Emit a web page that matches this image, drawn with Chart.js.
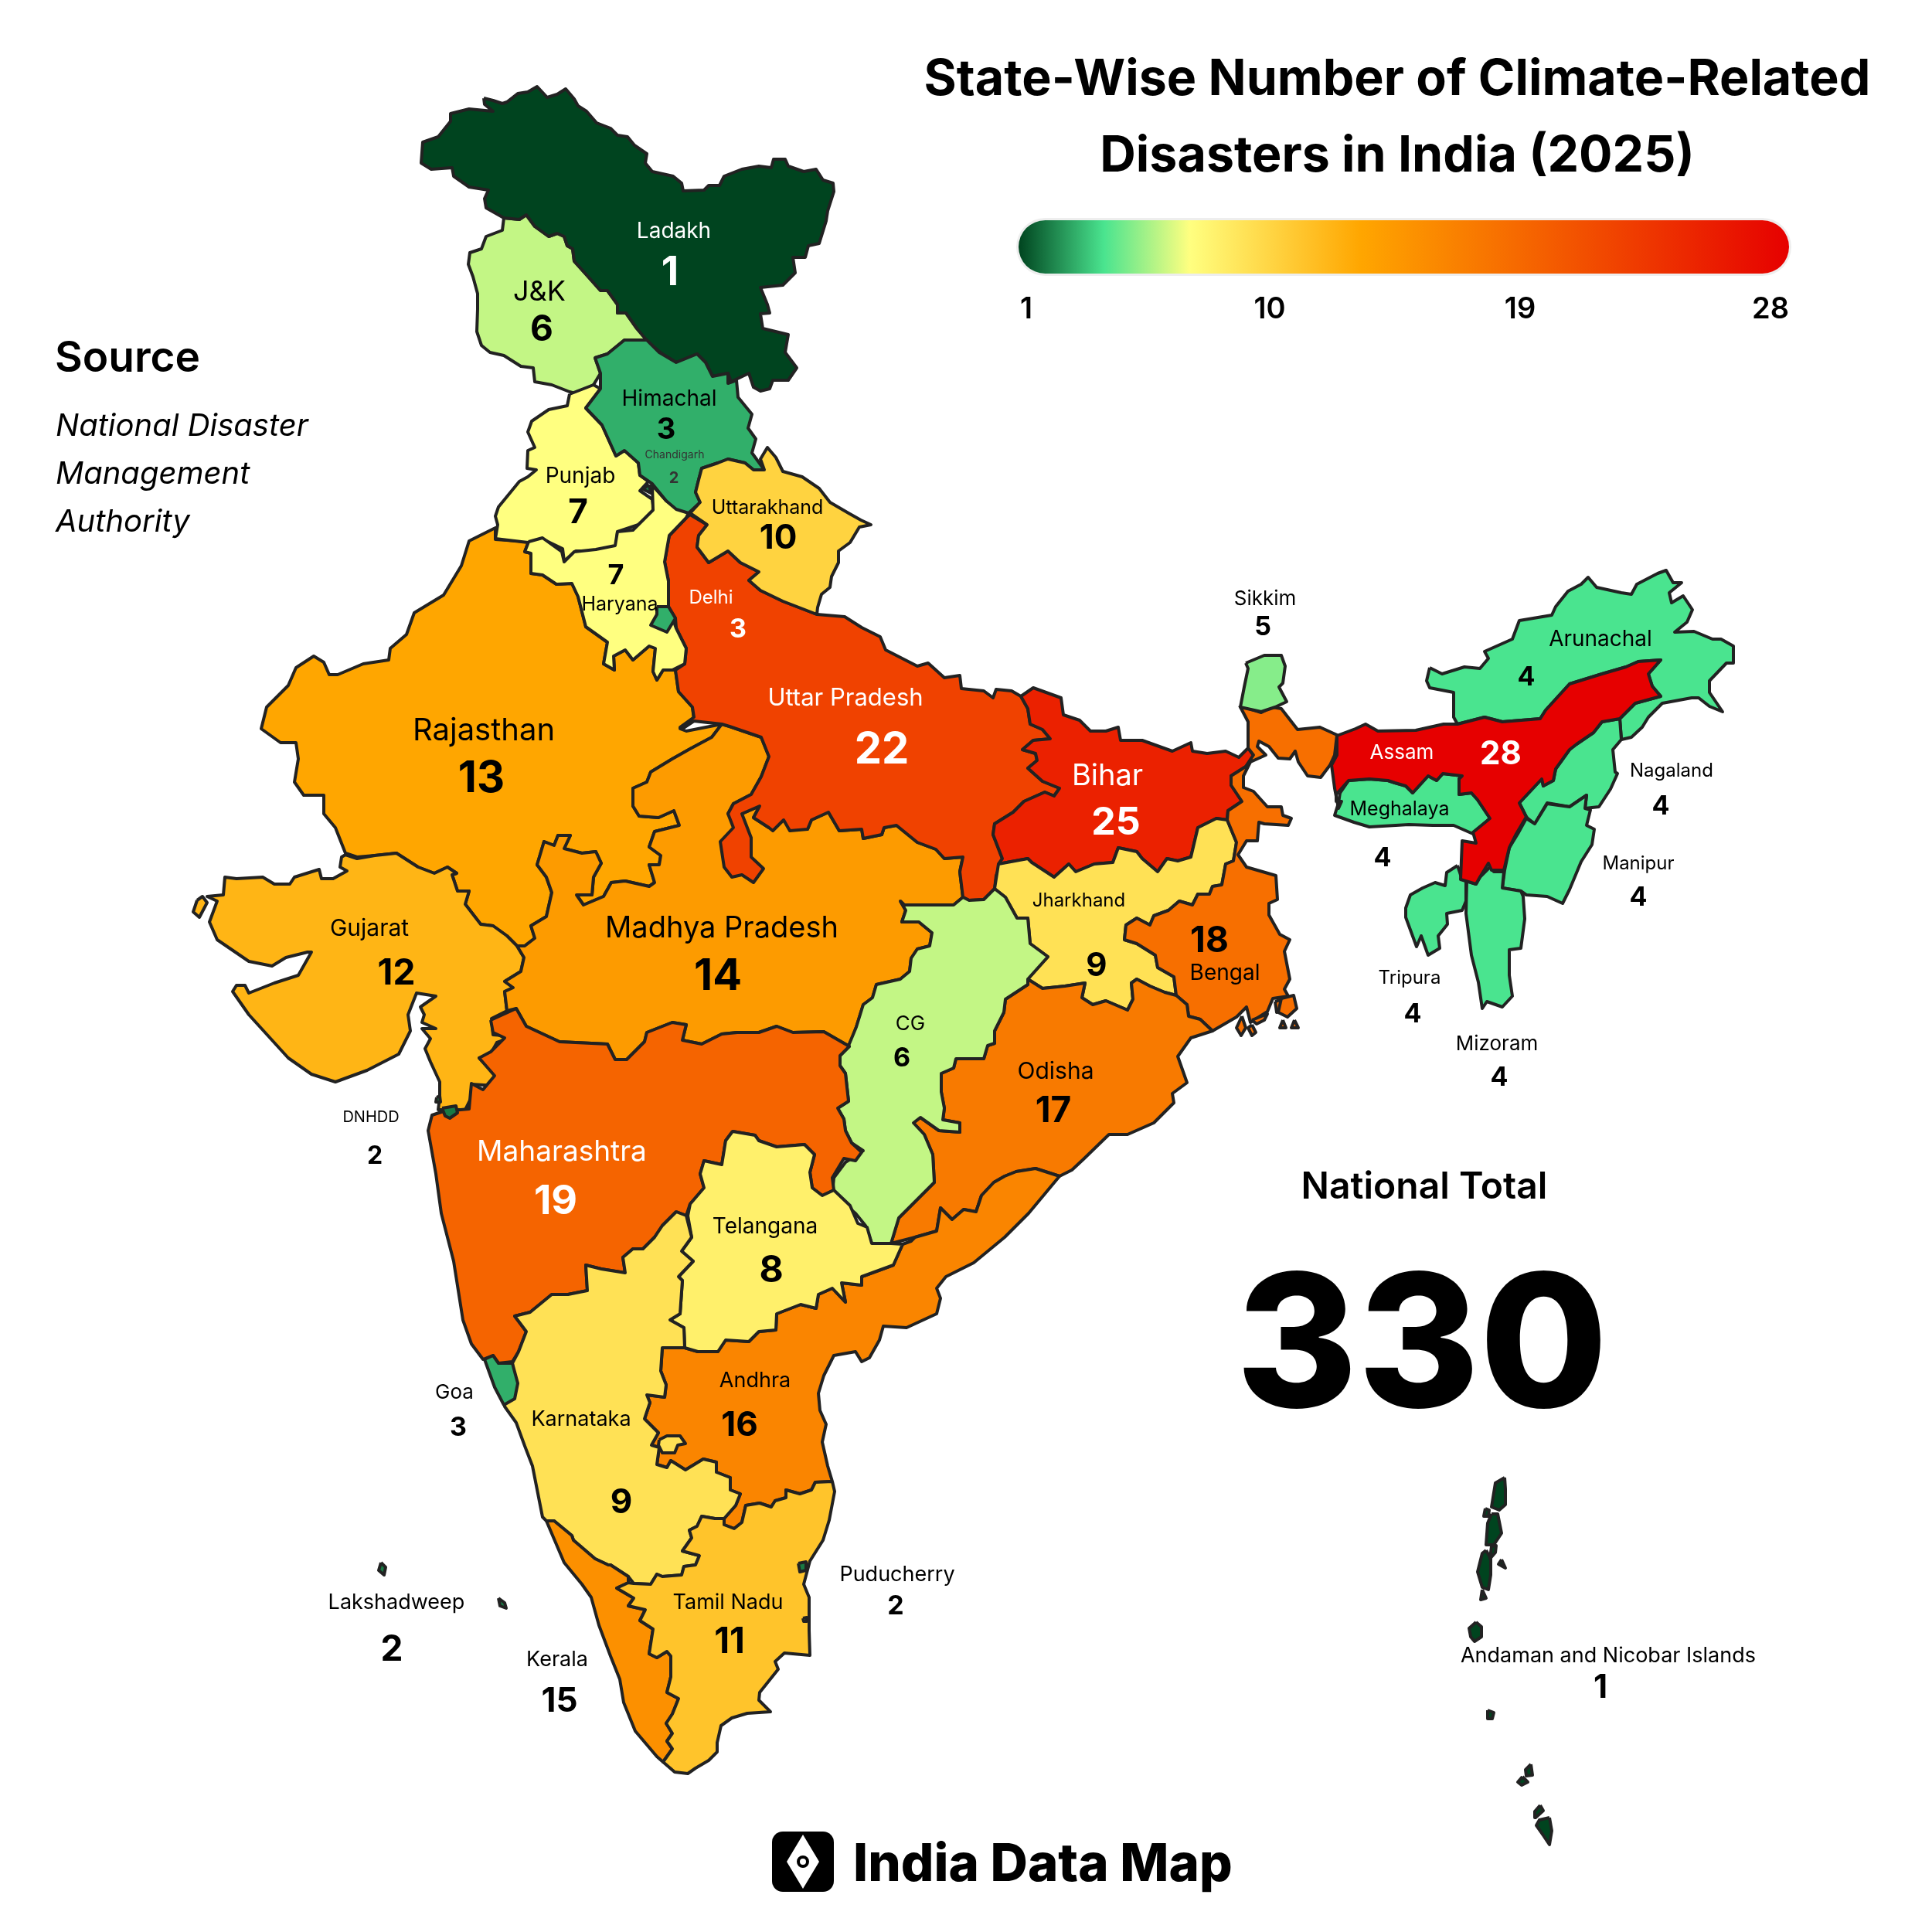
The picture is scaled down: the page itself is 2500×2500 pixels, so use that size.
<!DOCTYPE html>
<html>
<head>
<meta charset="utf-8">
<title>State-Wise Number of Climate-Related Disasters in India (2025)</title>
<script src="https://cdn.jsdelivr.net/npm/chart.js@4"></script>
<style>
    html, body { margin: 0; padding: 0; background: #fff; }
    #page { position: relative; width: 2500px; height: 2500px; overflow: hidden; font-family: Inter, sans-serif; color: #000; }
    #page canvas { position: absolute; left: 0; top: 0; }
    .txt { position: absolute; white-space: nowrap; line-height: 1; }
    .mid { transform: translate(-50%, -50%); }
    #bar { position: absolute; left: 1318px; top: 285px; width: 997px; height: 69px; border-radius: 35px; box-shadow: 0 0 0 3px #eeeeee; }
    #logo { position: absolute; left: 999px; top: 2370px; width: 80px; height: 78px; background: #000; border-radius: 14px; }
    #logo i { position: absolute; left: 19px; top: 4px; width: 42px; height: 70px; background: #fff; clip-path: polygon(50% 0, 100% 50%, 50% 100%, 0 50%); }
    #logo b { position: absolute; left: 32px; top: 31px; width: 8px; height: 8px; border: 4px solid #000; border-radius: 50%; background: #fff; }
</style>
</head>
<body>
<div id="page">
    <canvas id="mapChart" width="2500" height="2500"></canvas>
    <div class="txt mid" style="left:1808px;top:100px;font-size:64.5px;font-weight:700">State-Wise Number of Climate-Related</div>
    <div class="txt mid" style="left:1808px;top:199px;font-size:64.5px;font-weight:700">Disasters in India (2025)</div>
    <div id="bar"></div>
    <div id="legendTicks"></div>
    <div class="txt" style="left:71px;top:434px;font-size:55px;font-weight:600">Source</div>
    <div class="txt" style="left:72px;top:530px;font-size:40px;font-style:italic">National Disaster</div>
    <div class="txt" style="left:72px;top:592px;font-size:40px;font-style:italic">Management</div>
    <div class="txt" style="left:72px;top:654px;font-size:40px;font-style:italic">Authority</div>
    <div class="txt mid" style="left:1843px;top:1534px;font-size:48px;font-weight:600">National Total</div>
    <div class="txt mid" style="left:1840px;top:1734px;font-size:240px;font-weight:800">330</div>
    <div id="logo"><i></i><b></b></div>
    <div class="txt" style="left:1104px;top:2376px;font-size:67px;font-weight:800">India Data Map</div>
</div>

<script>
// disasters per state
const stateNames = ['Ladakh', 'J&K', 'Himachal', 'Chandigarh', 'Punjab', 'Haryana', 'Uttarakhand', 'Delhi', 'Uttar Pradesh',
    'Rajasthan', 'Bihar', 'Sikkim', 'Arunachal', 'Assam', 'Meghalaya', 'Nagaland', 'Manipur', 'Tripura', 'Mizoram',
    'Gujarat', 'Madhya Pradesh', 'Jharkhand', 'Bengal', 'CG', 'Odisha', 'Maharashtra', 'DNHDD', 'Telangana', 'Andhra',
    'Goa', 'Karnataka', 'Tamil Nadu', 'Puducherry', 'Lakshadweep', 'Kerala', 'Andaman and Nicobar Islands'];
const stateValues = [1, 6, 3, 2, 7, 7, 10, 3, 22, 13, 25, 5, 4, 28, 4, 4, 4, 4, 4, 12, 14, 9, 18, 6, 17, 19, 2, 8, 16, 3, 9, 11, 2, 2, 15, 1];
const legendValues = [1, 10, 19, 28];

// colour ramp, value -> colour
const rampValues = [1, 4, 7, 13, 28];
const rampColors = ['#00441f', '#4ae48f', '#ffff80', '#ffa600', '#e60000'];

// state outlines in map units, x,y,x,y...
const ladakh = [626,127,638,130,650,134,656,132,670,121,683,119,695,112,708,126,721,122,732,115,743,128,748,137,759,144,772,159,790,166,799,175,812,177,821,188,837,199,835,211,844,222,871,228,882,237,884,247,911,246,917,240,931,240,937,228,960,219,982,215,998,217,1001,206,1016,206,1020,215,1040,222,1056,219,1065,233,1078,237,1079,248,1071,273,1069,286,1060,315,1046,318,1042,333,1026,333,1029,353,1013,369,984,372,993,394,996,405,984,406,987,425,1020,433,1016,456,1031,476,1020,492,1000,492,996,503,984,506,975,501,969,483,946,494,942,483,922,487,913,469,902,458,875,469,857,458,839,443,824,425,810,405,799,405,799,394,786,376,777,376,761,358,743,338,741,322,734,318,730,306,721,302,710,306,692,293,681,278,672,284,652,282,629,269,627,257,632,246,607,242,587,228,585,217,558,219,545,211,547,184,567,177,583,157,583,147,607,141,638,144,627,135];
const jammuKashmir = [652,282,650,298,629,306,623,322,608,327,606,342,612,358,618,380,618,400,617,429,623,447,634,456,652,460,674,474,690,476,692,494,714,498,737,507,748,510,768,498,777,483,770,463,786,458,808,440,837,440,824,425,810,405,799,405,799,394,786,376,777,376,761,358,743,338,741,322,734,318,730,306,721,302,710,306,692,293,681,278,672,284];
const himachal = [770,463,786,458,808,440,837,440,853,456,875,469,902,458,913,469,922,487,942,483,942,496,953,492,955,514,973,536,968,554,978,568,973,586,989,608,975,608,964,599,942,594,929,599,908,606,904,621,900,637,906,650,891,664,875,659,862,648,844,626,828,615,826,599,808,583,797,590,779,550,758,528,777,503,777,483];
const chandigarh = [840,627,832,633,842,638];
const punjab = [737,510,768,498,777,503,758,528,779,550,797,590,808,583,826,599,828,615,839,623,828,635,844,646,846,661,826,679,799,688,797,708,772,713,745,713,730,726,728,710,701,697,683,702,641,697,644,679,641,668,645,656,672,623,683,617,694,608,682,606,683,583,692,579,683,559,688,545,710,530,734,525];
const haryana = [684,701,702,696,727,714,730,727,743,714,771,711,796,706,799,688,819,686,845,660,844,628,862,648,891,664,888,670,866,693,860,727,865,752,865,785,875,813,888,839,886,859,870,867,858,867,850,880,845,869,848,839,840,836,819,854,809,841,794,849,795,867,781,859,786,831,758,811,748,772,740,755,720,756,702,744,687,742,687,716,679,714];
const delhi = [850,785,865,785,874,800,863,818,842,809,850,795];
const uttarakhand = [893,664,906,650,900,637,904,621,908,606,929,599,942,594,964,599,975,608,989,608,984,594,993,579,1004,592,1013,610,1038,617,1060,632,1074,650,1098,664,1114,673,1127,679,1112,682,1100,702,1085,713,1085,728,1076,746,1074,760,1063,769,1058,786,1057,795,1013,778,984,764,969,751,982,740,958,728,942,713,917,728,902,708,904,693,915,679];
const uttarPradesh = [893,666,915,679,904,693,902,708,917,728,942,713,958,728,982,740,969,751,984,764,1013,778,1057,795,1093,798,1115,812,1139,824,1146,841,1187,862,1201,858,1222,877,1242,874,1244,891,1273,894,1285,903,1289,892,1309,894,1321,901,1330,917,1333,937,1349,944,1359,956,1337,958,1323,970,1340,975,1342,984,1330,994,1349,1011,1371,1020,1364,1030,1352,1025,1325,1037,1311,1051,1287,1066,1285,1080,1297,1111,1289,1133,1287,1150,1273,1164,1254,1165,1246,1161,1242,1128,1246,1109,1222,1111,1211,1099,1187,1090,1160,1068,1144,1071,1141,1080,1117,1085,1115,1073,1086,1075,1072,1051,1050,1061,1045,1073,1022,1075,1014,1061,1000,1075,995,1071,975,1058,983,1043,960,1053,972,1084,972,1109,988,1124,975,1142,960,1132,947,1135,937,1122,932,1089,949,1071,942,1053,949,1040,972,1028,985,1005,995,979,985,954,944,940,934,937,898,933,883,943,880,941,898,928,896,915,878,895,874,867,886,859,888,839,875,813,874,800,865,785,865,752,860,727,866,693,888,670];
const rajasthan = [641,698,684,701,679,714,687,716,687,742,702,744,720,756,740,755,748,772,758,811,786,831,781,859,795,867,794,849,809,841,819,854,840,836,848,839,845,869,850,880,858,867,874,867,878,895,896,915,898,931,880,943,888,946,934,937,921,954,893,969,870,982,842,999,837,1012,819,1020,819,1043,827,1056,852,1058,872,1049,879,1068,847,1076,840,1096,855,1107,853,1119,840,1119,847,1142,840,1147,809,1140,791,1142,781,1160,755,1171,746,1158,766,1158,768,1135,778,1117,771,1102,753,1104,730,1098,738,1081,722,1081,717,1094,704,1089,695,1119,707,1135,714,1155,707,1186,687,1198,692,1214,679,1224,669,1224,656,1211,638,1198,622,1196,602,1170,607,1153,592,1153,585,1132,591,1130,579,1122,562,1130,541,1122,513,1104,485,1107,462,1109,447,1104,434,1071,419,1053,419,1029,393,1029,381,1012,386,982,383,961,363,961,338,943,345,915,373,887,383,864,406,849,419,857,426,873,437,873,470,859,503,854,505,839,526,821,536,793,574,770,597,732,607,700,641,683];
const bihar = [1321,901,1337,890,1373,903,1376,925,1397,932,1411,946,1431,946,1447,941,1450,958,1478,958,1517,972,1541,961,1543,972,1562,975,1586,972,1603,980,1615,968,1622,977,1612,992,1593,1004,1593,1016,1607,1037,1589,1049,1588,1061,1574,1059,1550,1071,1541,1109,1524,1114,1510,1111,1498,1128,1478,1111,1471,1102,1447,1097,1440,1116,1416,1118,1392,1128,1383,1118,1364,1135,1335,1116,1330,1111,1292,1118,1297,1111,1285,1080,1287,1066,1311,1051,1325,1037,1352,1025,1364,1030,1371,1020,1349,1011,1330,994,1342,984,1340,975,1323,970,1337,958,1359,956,1349,944,1333,937,1330,917];
const sikkim = [1612,858,1636,848,1658,848,1663,862,1660,884,1655,889,1665,908,1650,915,1632,921,1605,915,1610,889,1615,865];
const arunachal = [1850,864,1866,872,1895,863,1915,865,1926,852,1921,843,1957,827,1966,803,2008,796,2013,785,2029,765,2046,756,2055,747,2066,760,2098,767,2111,769,2118,756,2145,742,2156,738,2165,754,2176,754,2160,767,2163,780,2178,771,2190,789,2183,805,2167,818,2192,817,2216,827,2227,827,2243,836,2243,858,2234,858,2212,881,2212,896,2229,921,2212,914,2198,903,2189,903,2151,910,2133,928,2125,941,2111,954,2098,957,2096,930,2116,910,2149,901,2138,888,2133,872,2149,854,2120,856,2104,863,2073,872,2031,885,2000,919,1993,930,1944,934,1921,928,1886,937,1881,928,1881,896,1850,890,1846,881];
const assam = [1730,952,1754,943,1767,937,1783,946,1832,945,1868,937,1886,937,1921,928,1944,934,1993,930,2000,919,2031,885,2073,872,2104,863,2120,856,2149,854,2133,872,2138,888,2149,901,2116,910,2096,930,2073,934,2062,948,2040,963,2031,970,2013,995,2010,1010,1997,1017,1995,1008,1966,1039,1975,1057,1962,1079,1953,1097,1946,1126,1930,1126,1926,1117,1915,1135,1910,1144,1890,1138,1892,1088,1910,1091,1906,1077,1928,1059,1912,1035,1904,1026,1888,1028,1888,1008,1892,1004,1867,1001,1859,1010,1848,1004,1828,1026,1819,1017,1805,1013,1796,1010,1772,1008,1745,1010,1729,1028,1729,1037,1736,1037,1732,1046,1727,1020,1723,990,1730,977];
const meghalaya = [1734,1026,1745,1010,1772,1008,1796,1010,1805,1013,1819,1017,1828,1026,1848,1004,1859,1010,1867,1001,1892,1004,1888,1008,1888,1028,1904,1026,1912,1035,1928,1059,1906,1079,1881,1068,1854,1068,1823,1067,1772,1070,1752,1064,1727,1055,1732,1039];
const nagaland = [2096,930,2098,957,2087,970,2090,999,2093,1001,2084,1021,2069,1044,2051,1046,2053,1029,2031,1044,2002,1039,1986,1066,1977,1059,1975,1057,1966,1039,1995,1008,1997,1017,2010,1010,2013,995,2031,970,2040,963,2062,948,2073,934];
const manipur = [2002,1040,2031,1044,2053,1029,2051,1046,2058,1048,2053,1068,2063,1073,2060,1093,2046,1115,2031,1151,2022,1169,2002,1160,1975,1158,1968,1153,1944,1149,1947,1126,1953,1097,1964,1079,1975,1059,1986,1066];
const tripura = [1886,1120,1892,1138,1897,1140,1897,1166,1892,1178,1872,1182,1873,1196,1861,1211,1863,1227,1848,1236,1839,1211,1833,1225,1819,1187,1819,1175,1825,1158,1841,1149,1857,1142,1870,1146,1872,1129];
const mizoram = [1928,1122,1933,1128,1946,1128,1944,1149,1968,1153,1971,1160,1973,1189,1968,1227,1953,1229,1953,1262,1957,1289,1944,1303,1924,1296,1918,1305,1913,1271,1904,1236,1897,1182,1898,1140,1910,1144,1915,1135];
const gujarat = [447,1106,462,1111,485,1107,513,1104,541,1122,562,1130,579,1122,591,1130,585,1132,592,1153,607,1153,602,1170,622,1196,638,1198,656,1211,669,1224,678,1239,674,1257,653,1270,664,1278,653,1283,656,1308,636,1318,638,1339,666,1341,643,1349,633,1367,620,1369,641,1390,641,1405,610,1403,610,1420,602,1436,567,1436,569,1420,569,1400,557,1374,550,1357,557,1344,546,1331,564,1331,546,1323,549,1313,544,1303,564,1289,539,1285,528,1313,531,1334,516,1364,475,1385,434,1400,403,1390,373,1369,322,1313,301,1283,306,1275,317,1275,322,1285,355,1272,386,1262,403,1232,398,1232,370,1239,352,1250,322,1244,281,1216,271,1193,281,1166,268,1160,289,1158,291,1135,306,1137,340,1135,355,1144,375,1144,381,1135,413,1125,416,1137,431,1137,449,1127,440,1122,442,1109];
const gujaratIslet = [255,1165,262,1160,268,1168,258,1187,250,1180];
const madhyaPradesh = [669,1224,679,1224,692,1214,687,1198,707,1186,714,1155,707,1135,695,1119,704,1089,717,1094,722,1081,738,1081,730,1098,753,1104,771,1102,778,1117,768,1135,766,1158,746,1158,755,1171,781,1160,791,1142,809,1140,840,1147,847,1142,840,1119,853,1119,855,1107,840,1096,847,1076,879,1068,872,1049,852,1058,827,1056,819,1043,819,1020,837,1012,842,999,870,982,893,969,921,954,934,937,944,940,985,954,995,979,985,1005,972,1028,949,1040,942,1053,960,1053,983,1043,975,1058,995,1071,1011,1058,1026,1071,1045,1073,1050,1061,1072,1051,1086,1075,1115,1073,1117,1085,1141,1080,1144,1071,1160,1068,1187,1090,1211,1099,1222,1111,1246,1109,1242,1128,1246,1161,1234,1171,1170,1171,1165,1166,1172,1178,1167,1193,1189,1193,1206,1207,1203,1224,1187,1228,1179,1240,1177,1257,1165,1267,1134,1274,1129,1291,1117,1300,1108,1329,1099,1354,1066,1335,1026,1336,1005,1328,982,1336,954,1336,934,1338,908,1351,883,1346,888,1326,870,1323,837,1336,834,1348,811,1371,796,1371,786,1351,724,1348,681,1328,668,1305,656,1308,653,1283,664,1278,653,1270,674,1257,678,1239];
const jharkhand = [1292,1118,1330,1111,1335,1116,1364,1135,1383,1118,1392,1128,1416,1118,1440,1116,1447,1097,1471,1102,1478,1111,1498,1128,1510,1111,1524,1114,1541,1109,1550,1071,1574,1059,1588,1061,1600,1090,1596,1114,1586,1118,1581,1145,1569,1147,1565,1157,1550,1157,1543,1171,1526,1166,1512,1178,1493,1185,1488,1197,1471,1188,1457,1197,1455,1216,1471,1221,1495,1236,1498,1252,1519,1264,1522,1288,1507,1284,1488,1276,1471,1267,1464,1272,1466,1293,1459,1307,1431,1295,1414,1300,1400,1291,1404,1272,1378,1276,1349,1279,1330,1267,1356,1238,1333,1221,1330,1188,1316,1188,1301,1161,1287,1150];
const bengal = [1604,913,1632,922,1646,915,1658,917,1679,944,1708,941,1730,951,1727,977,1721,990,1709,1006,1692,1004,1680,986,1676,972,1669,982,1654,981,1642,966,1629,959,1627,966,1638,977,1618,986,1609,1004,1609,1019,1622,1024,1640,1044,1658,1044,1660,1055,1671,1059,1667,1068,1636,1066,1629,1064,1627,1088,1613,1088,1602,1106,1613,1122,1651,1133,1653,1164,1642,1169,1642,1184,1656,1209,1669,1216,1662,1231,1669,1267,1662,1280,1667,1289,1647,1292,1640,1309,1618,1323,1613,1303,1600,1316,1569,1334,1553,1319,1538,1315,1536,1300,1522,1288,1519,1264,1498,1252,1495,1236,1471,1221,1455,1216,1457,1197,1471,1188,1488,1197,1493,1185,1512,1178,1526,1166,1543,1171,1550,1157,1565,1157,1569,1147,1581,1145,1586,1118,1596,1114,1600,1090,1588,1061,1589,1049,1607,1037,1593,1016,1593,1004,1612,992,1622,977,1615,968,1615,956,1615,934];
const bengalIslets = [[1607,1315,1612,1330,1606,1340,1600,1330],[1620,1326,1625,1336,1620,1340,1615,1330],[1620,1320,1640,1312,1636,1320,1626,1325],[1650,1296,1666,1291,1662,1306,1652,1310],[1658,1292,1674,1288,1678,1305,1666,1316,1654,1310],[1660,1320,1664,1330,1656,1330],[1675,1320,1680,1330,1671,1330]];
const chhattisgarh = [1165,1166,1170,1171,1234,1171,1246,1161,1254,1165,1273,1164,1287,1150,1301,1161,1316,1188,1330,1188,1333,1221,1356,1238,1330,1267,1330,1274,1301,1293,1299,1310,1287,1334,1287,1350,1278,1353,1273,1370,1237,1370,1234,1382,1218,1389,1218,1413,1222,1434,1220,1449,1242,1453,1242,1465,1215,1463,1191,1446,1182,1453,1196,1468,1207,1494,1209,1530,1189,1550,1163,1576,1153,1609,1128,1609,1120,1586,1107,1570,1077,1545,1079,1524,1094,1504,1117,1489,1102,1479,1094,1463,1092,1448,1084,1434,1098,1425,1094,1389,1087,1379,1087,1366,1099,1354,1098,1353,1108,1329,1117,1300,1129,1291,1134,1274,1165,1267,1177,1257,1179,1240,1187,1228,1203,1224,1206,1207,1189,1193,1167,1193,1172,1178];
const odisha = [1330,1267,1349,1279,1378,1276,1404,1272,1400,1291,1414,1300,1431,1295,1459,1307,1466,1293,1464,1272,1471,1267,1488,1276,1507,1284,1522,1288,1536,1300,1538,1315,1553,1319,1569,1334,1541,1343,1524,1367,1536,1401,1517,1415,1519,1427,1493,1453,1459,1468,1435,1468,1402,1500,1387,1514,1371,1522,1340,1512,1315,1516,1300,1522,1286,1530,1270,1547,1263,1568,1247,1565,1232,1578,1217,1563,1212,1593,1184,1601,1153,1609,1163,1576,1189,1550,1209,1530,1207,1494,1196,1468,1182,1453,1191,1446,1215,1463,1242,1465,1242,1453,1220,1449,1222,1434,1218,1413,1218,1389,1234,1382,1237,1370,1273,1370,1278,1353,1287,1350,1287,1334,1299,1310,1301,1293,1330,1274];
const maharashtra = [635,1320,668,1305,681,1328,724,1348,786,1351,796,1371,811,1371,834,1348,837,1336,870,1323,888,1326,883,1346,908,1351,934,1338,954,1336,982,1336,1005,1328,1026,1336,1066,1335,1099,1354,1087,1366,1087,1379,1094,1389,1098,1425,1084,1434,1092,1448,1094,1463,1102,1479,1115,1491,1107,1502,1092,1499,1077,1524,1079,1540,1064,1547,1051,1537,1048,1517,1054,1494,1041,1481,1005,1484,982,1476,977,1469,948,1464,939,1476,934,1507,911,1502,906,1519,911,1537,893,1558,888,1573,875,1568,857,1586,847,1601,832,1616,819,1616,806,1627,809,1647,778,1642,758,1637,760,1670,735,1675,714,1675,686,1698,666,1703,681,1723,671,1749,663,1762,645,1764,638,1754,625,1759,610,1739,599,1708,587,1632,571,1570,564,1519,554,1463,559,1443,574,1438,607,1435,610,1402,625,1410,640,1392,620,1369,635,1361,653,1343,638,1336];
const dnhdd = [[572,1434,590,1431,592,1440,582,1447,576,1444],[565,1420,569,1418,570,1426,564,1426]];
const telangana = [948,1464,977,1469,982,1476,1005,1484,1041,1481,1054,1494,1048,1517,1051,1537,1064,1547,1079,1540,1100,1560,1110,1583,1122,1588,1128,1609,1153,1609,1168,1610,1156,1637,1115,1652,1115,1663,1089,1660,1094,1685,1077,1667,1059,1675,1056,1693,1036,1688,1005,1700,1004,1721,982,1723,969,1736,939,1734,929,1749,903,1749,886,1744,885,1718,867,1708,880,1700,883,1657,878,1652,897,1632,882,1619,895,1601,890,1573,893,1558,911,1537,906,1519,911,1502,934,1507,939,1476];
const andhra = [857,1744,886,1744,903,1749,929,1749,939,1734,969,1736,982,1723,1004,1721,1005,1700,1036,1688,1056,1693,1059,1675,1077,1667,1094,1685,1089,1660,1115,1663,1115,1652,1156,1637,1168,1610,1179,1606,1184,1601,1212,1593,1217,1563,1232,1578,1247,1565,1263,1568,1270,1547,1286,1530,1300,1522,1315,1516,1340,1512,1371,1522,1331,1570,1300,1601,1260,1634,1224,1652,1212,1667,1217,1680,1212,1700,1173,1718,1143,1716,1138,1734,1125,1757,1115,1762,1107,1749,1079,1754,1066,1780,1059,1803,1061,1825,1069,1843,1064,1866,1071,1897,1077,1917,1055,1918,1050,1928,1035,1933,1017,1928,1017,1938,1003,1942,998,1950,983,1945,965,1948,960,1970,950,1978,937,1973,937,1965,952,1948,958,1933,945,1928,945,1912,927,1905,927,1892,910,1888,887,1902,868,1890,863,1899,850,1895,853,1873,843,1870,852,1854,834,1836,841,1815,837,1805,860,1808,862,1792,855,1774];
const goa = [627,1759,638,1754,645,1764,663,1764,670,1790,666,1810,652,1818,640,1795];
const karnataka = [875,1568,888,1573,895,1601,882,1619,897,1632,878,1652,883,1657,880,1700,867,1708,885,1718,886,1744,857,1744,855,1774,862,1792,860,1808,837,1805,841,1815,834,1836,852,1854,843,1870,853,1873,850,1895,863,1899,868,1890,887,1902,910,1888,927,1892,927,1905,945,1912,945,1928,958,1933,952,1948,937,1965,925,1965,908,1962,902,1975,892,1980,895,1990,883,2007,905,2013,900,2025,885,2027,882,2038,857,2040,850,2037,842,2050,820,2049,813,2040,790,2025,787,2025,770,2017,742,1993,740,1987,717,1968,707,1968,702,1963,689,1897,679,1871,668,1841,653,1820,653,1813,666,1803,666,1790,663,1764,671,1749,681,1723,666,1703,686,1698,714,1675,735,1675,760,1670,758,1637,778,1642,809,1647,806,1627,819,1616,832,1616,847,1601,857,1586];
const karnatakaEnclave = [853,1863,863,1858,880,1858,887,1868,877,1870,873,1880,857,1880,852,1870];
const tamilNadu = [1077,1917,1080,1930,1073,1967,1065,1993,1048,2020,1040,2050,1047,2067,1047,2110,1048,2142,1015,2139,1003,2150,1007,2160,983,2190,982,2200,997,2215,967,2217,947,2223,933,2233,928,2255,928,2267,917,2278,900,2288,890,2295,873,2293,858,2280,870,2263,863,2253,870,2243,862,2230,870,2218,878,2198,863,2190,868,2170,868,2143,863,2137,850,2145,840,2140,845,2108,828,2097,835,2083,813,2078,820,2068,798,2055,813,2048,820,2049,842,2050,850,2037,857,2040,882,2038,885,2027,900,2025,905,2013,883,2007,895,1990,892,1980,902,1975,908,1962,925,1965,937,1965,937,1973,950,1978,960,1970,965,1948,983,1945,998,1950,1003,1942,1017,1938,1017,1928,1035,1933,1050,1928,1055,1918];
const puducherry = [[1033,2023,1043,2021,1043,2032,1035,2034],[1039,2094,1044,2093,1044,2098,1040,2098]];
const lakshadweep = [[493,2022,499,2028,497,2038,490,2032],[645,2068,653,2074,655,2081,647,2078]];
const kerala = [707,1968,717,1968,740,1987,742,1993,770,2017,787,2025,790,2025,813,2040,813,2048,798,2055,820,2068,813,2078,835,2083,828,2097,845,2108,840,2140,850,2145,863,2137,868,2143,868,2170,863,2190,878,2198,870,2218,862,2230,870,2243,863,2253,870,2263,858,2280,850,2273,822,2240,807,2203,802,2173,790,2143,775,2103,765,2067,753,2050,730,2022];
const andamanNicobar = [[1947,1912,1935,1919,1930,1950,1940,1954,1948,1947,1948,1927],[1930,1959,1938,1959,1943,1984,1933,1999,1923,1999,1925,1971],[1922,1952,1927,1954,1926,1962,1920,1962],[1923,2006,1929,2017,1929,2038,1926,2057,1918,2054,1912,2034,1918,2010],[1930,2001,1936,2000,1935,2009,1928,2017],[1943,2018,1948,2029,1939,2024],[1918,2057,1923,2068,1916,2070],[1910,2099,1917,2105,1917,2118,1908,2124,1903,2118,1901,2107],[1925,2213,1933,2216,1931,2224,1925,2224],[1981,2283,1983,2297,1975,2298,1974,2290],[1970,2299,1977,2306,1969,2310,1964,2306],[1993,2336,1997,2343,1987,2352,1986,2344],[2005,2352,2008,2369,2005,2387,1997,2375,1988,2362,1992,2355]];

// paint order, later ones sit on top
const paintOrder = [
    ['Rajasthan', rajasthan], ['Gujarat', gujarat], ['Gujarat', gujaratIslet], ['Madhya Pradesh', madhyaPradesh], ['Uttar Pradesh', uttarPradesh],
    ['Bihar', bihar], ['Jharkhand', jharkhand], ['Bengal', bengal], ['Sikkim', sikkim],
    ['J&K', jammuKashmir], ['Ladakh', ladakh], ['Punjab', punjab], ['Haryana', haryana], ['Himachal', himachal], ['Chandigarh', chandigarh], ['Delhi', delhi], ['Uttarakhand', uttarakhand],
    ['Odisha', odisha], ['CG', chhattisgarh], ['Maharashtra', maharashtra], ['Andhra', andhra], ['Telangana', telangana], ['Karnataka', karnataka], ['Karnataka', karnatakaEnclave],
    ['Goa', goa], ['Kerala', kerala], ['Tamil Nadu', tamilNadu],
    ['Arunachal', arunachal], ['Meghalaya', meghalaya], ['Nagaland', nagaland], ['Manipur', manipur], ['Tripura', tripura], ['Mizoram', mizoram], ['Assam', assam],
    ...bengalIslets.map(p => ['Bengal', p]), ...dnhdd.map(p => ['DNHDD', p]), ...puducherry.map(p => ['Puducherry', p]),
    ...lakshadweep.map(p => ['Lakshadweep', p]), ...andamanNicobar.map(p => ['Andaman and Nicobar Islands', p])
];

// label placement, same order as stateNames: name x,y,size then value x,y,size
const nameX = [872,698,866,873,751,802,993,920,1094,626,1433,1637,2071,1814,1811,2163,2120,1824,1937,478,934,1396,1585,1178,1366,727,480,990,977,588,752,942,1161,513,721,2081];
const nameY = [300,378,517,589,617,782,657,774,904,946,1005,775,828,974,1047,998,1118,1266,1351,1202,1202,1166,1260,1325,1387,1491,1446,1588,1787,1802,1837,2074,2038,2074,2148,2143];
const nameSize = [28,36,28,14,28,25,25,24,31,40,38,26,28,26,25,24,24,24,26,30,38,24,28,26,30,37,20,28,27,26,27,27,27,27,27,27];
const valueX = [867,701,862,872,748,797,1007,955,1141,623,1444,1634,1975,1942,1789,2149,2120,1828,1940,513,929,1419,1565,1167,1363,719,485,998,957,593,804,944,1159,507,724,2071];
const valueY = [353,427,557,619,664,745,697,815,971,1008,1065,812,877,976,1111,1044,1162,1313,1395,1260,1264,1250,1218,1370,1438,1555,1496,1645,1845,1848,1945,2125,2079,2135,2202,2184];
const valueSize = [52,46,38,20,44,36,44,34,56,56,50,34,34,42,34,34,34,34,34,46,56,42,46,34,46,52,32,48,44,34,44,46,34,46,44,42];
const whiteLabels = ['Ladakh', 'Delhi', 'Uttar Pradesh', 'Bihar', 'Assam', 'Maharashtra'];

function hexToRgb(hex) {
    return [1, 3, 5].map(i => parseInt(hex.slice(i, i + 2), 16));
}

function colorFor(value) {
    let i = 0;
    while (i < rampValues.length - 2 && value > rampValues[i + 1]) i++;
    const t = (value - rampValues[i]) / (rampValues[i + 1] - rampValues[i]);
    const a = hexToRgb(rampColors[i]);
    const b = hexToRgb(rampColors[i + 1]);
    return `rgb(${a.map((c, k) => Math.round(c + (b[k] - c) * t)).join(',')})`;
}

function toPoints(flat) {
    const pts = [];
    for (let i = 0; i < flat.length; i += 2) pts.push({ x: flat[i], y: flat[i + 1] });
    pts.push({ x: flat[0], y: flat[1] });
    return pts;
}

// state name and value text, placed through the scales
const stateLabels = {
    id: 'stateLabels',
    afterDatasetsDraw(chart) {
        const { ctx, scales } = chart;
        ctx.save();
        ctx.textAlign = 'center';
        ctx.textBaseline = 'middle';
        stateNames.forEach((name, i) => {
            ctx.fillStyle = whiteLabels.includes(name) ? '#fff' : (name === 'Chandigarh' ? '#333' : '#000');
            ctx.font = `400 ${nameSize[i]}px Inter, sans-serif`;
            ctx.fillText(name, scales.x.getPixelForValue(nameX[i]), scales.y.getPixelForValue(nameY[i]));
            ctx.font = `700 ${valueSize[i]}px Inter, sans-serif`;
            ctx.fillText(stateValues[i], scales.x.getPixelForValue(valueX[i]), scales.y.getPixelForValue(valueY[i]));
        });
        ctx.restore();
    }
};

function renderLegend() {
    const lo = rampValues[0];
    const hi = rampValues[rampValues.length - 1];
    const stops = rampValues.map((v, i) => `${rampColors[i]} ${((v - lo) / (hi - lo) * 100).toFixed(1)}%`);
    document.getElementById('bar').style.background = `linear-gradient(90deg, ${stops.join(', ')})`;
    const tickX = [1328, 1643, 1967, 2291];
    document.getElementById('legendTicks').innerHTML = legendValues.map((v, i) =>
        `<div class="txt mid" style="left:${tickX[i]}px;top:398px;font-size:38px;font-weight:600">${v}</div>`
    ).join('');
}

function renderMap() {
    const total = paintOrder.length;
    new Chart(document.getElementById('mapChart'), {
        type: 'scatter',
        data: {
            datasets: paintOrder.map(([name, shape], i) => ({
                label: name,
                data: toPoints(shape),
                showLine: true,
                fill: 'shape',
                tension: 0,
                pointRadius: 0,
                borderWidth: 4,
                borderColor: '#222222',
                borderJoinStyle: 'round',
                backgroundColor: colorFor(stateValues[stateNames.indexOf(name)]),
                order: total - i,
                clip: false
            }))
        },
        options: {
            responsive: false,
            animation: false,
            devicePixelRatio: 1,
            layout: { padding: 0 },
            plugins: { legend: { display: false }, tooltip: { enabled: false } },
            scales: {
                x: { type: 'linear', min: 0, max: 2500, display: false },
                y: { type: 'linear', min: 0, max: 2500, reverse: true, display: false }
            }
        },
        plugins: [stateLabels]
    });
}

renderLegend();
document.fonts.load('700 40px Inter').finally(renderMap);
</script>
</body>
</html>
